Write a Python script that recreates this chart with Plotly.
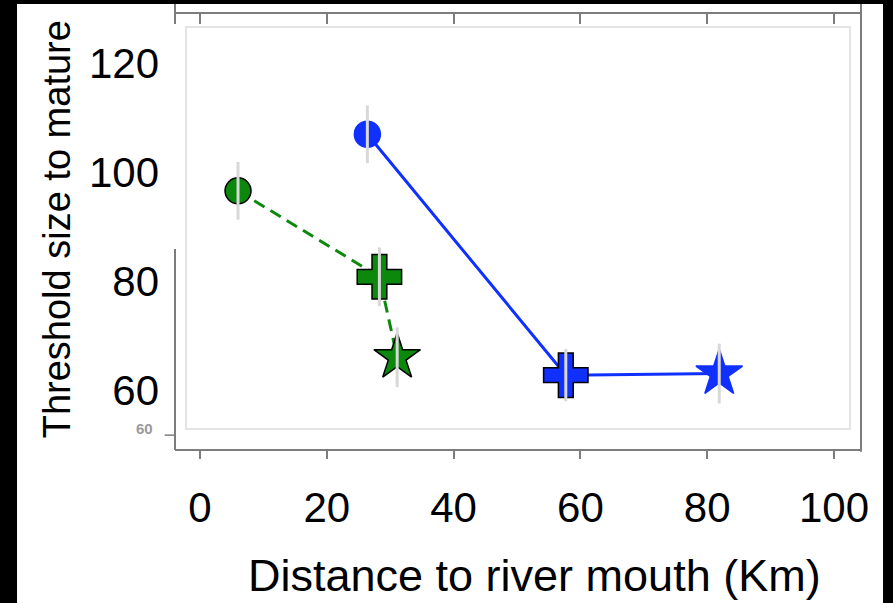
import plotly.graph_objects as go

# datos
distancia_verde = [6.0, 28.3, 31.1]
umbral_verde = [96.6, 80.8, 66.0]
error_verde = [5.3, 5.4, 5.5]

distancia_azul = [26.4, 57.7, 81.9]
umbral_azul = [107.0, 62.7, 63.0]
error_azul = [5.3, 4.8, 5.5]

simbolos = ["circle", "cross", "star"]
x_ticks = [0, 20, 40, 60, 80, 100]
y_ticks = [60, 80, 100, 120]

VERDE = "#0c890c"
AZUL = "#1030ff"
GRIS = "#7d7d7d"
FUENTE = "Liberation Sans, Arial, sans-serif"

x_rango = [-3.94, 104.26]
y_rango = [48.95, 129.3]

fig = go.Figure()

# serie verde (linea discontinua)
fig.add_trace(go.Scatter(
    x=distancia_verde, y=umbral_verde, mode="lines+markers",
    line=dict(color=VERDE, width=3, dash="12px,7px"),
    marker=dict(symbol=simbolos, size=[26, 37, 35], color=VERDE, opacity=1,
                line=dict(color="black", width=1.5)),
    showlegend=False))

# serie azul (linea continua)
fig.add_trace(go.Scatter(
    x=distancia_azul, y=umbral_azul, mode="lines+markers",
    line=dict(color=AZUL, width=3),
    marker=dict(symbol=simbolos, size=[26, 37, 35], color=AZUL, opacity=1,
                line=dict(color=[AZUL, "black", AZUL], width=1.5)),
    showlegend=False))

# barras de error grises por encima de los marcadores
fig.add_trace(go.Scatter(
    x=distancia_verde + distancia_azul, y=umbral_verde + umbral_azul,
    mode="markers", marker=dict(size=1, opacity=0),
    error_y=dict(type="data", array=error_verde + error_azul,
                 color="#d8d8d8", thickness=3, width=0),
    xaxis="x2", showlegend=False, hoverinfo="skip"))

# fondo blanco sobre el negro
fig.add_shape(type="rect", xref="paper", yref="paper",
              x0=-0.2303, x1=1.0321, y0=-0.37, y1=1.0206,
              fillcolor="white", line_width=0, layer="below")
# panel interior gris claro
fig.add_shape(type="rect", xref="paper", yref="paper",
              x0=0.016, x1=0.984, y0=0.048, y1=0.968,
              line=dict(color="#e4e4e4", width=2), layer="below")
# marco exterior
for x0, x1, y0, y1 in [(0, 1, 1, 1), (0, 1, 0, 0), (1, 1, -0.004, 1.0206),
                       (0, 0, 0.975, 1.0206), (0, 0, 0, 0.46)]:
    fig.add_shape(type="line", xref="paper", yref="paper",
                  x0=x0, x1=x1, y0=y0, y1=y1,
                  line=dict(color=GRIS, width=2))
# marca pequena "60" del grafico original
fig.add_shape(type="line", xref="paper", yref="paper",
              x0=-0.015, x1=0, y0=0.034, y1=0.034,
              line=dict(color=GRIS, width=1.5))
fig.add_annotation(text="<b>60</b>", xref="paper", yref="paper", x=-0.06, y=0.025,
                   showarrow=False, font=dict(family=FUENTE, size=15, color="#9a9a9a"))

# titulos de los ejes
fig.add_annotation(text="Distance to river mouth (Km)", xref="paper", yref="paper",
                   x=0.524, y=-0.287, xanchor="center", yanchor="middle",
                   showarrow=False, font=dict(family=FUENTE, size=45, color="black"))
fig.add_annotation(text="Threshold size to mature", xref="paper", yref="paper",
                   x=-0.172, y=0.505, textangle=-90, xanchor="center", yanchor="middle",
                   showarrow=False, font=dict(family=FUENTE, size=38, color="black"))

fig.update_layout(
    width=893, height=603,
    margin=dict(l=175, r=32, t=13, b=153),
    paper_bgcolor="black", plot_bgcolor="white",
    font=dict(family=FUENTE, color="black"),
    xaxis=dict(range=x_rango, tickvals=x_ticks, ticks="outside", ticklen=8,
               tickwidth=2, tickcolor=GRIS, showgrid=False, zeroline=False,
               showline=False, tickfont=dict(size=42, color="black"),
               ticklabelstandoff=13, automargin=False),
    xaxis2=dict(range=x_rango, overlaying="x", side="top", tickvals=x_ticks,
                ticks="inside", ticklen=11, tickwidth=2, tickcolor=GRIS,
                showticklabels=False, showgrid=False, zeroline=False,
                showline=False, automargin=False),
    yaxis=dict(range=y_rango, tickvals=y_ticks, ticks="", showgrid=False,
               zeroline=False, showline=False, tickfont=dict(size=42, color="black"),
               ticklabelstandoff=15, automargin=False),
)

# quitar el margen del body para que la figura ocupe toda la ventana
fig.write_html("out.html", config={"displayModeBar": False},
               post_script="document.body.style.margin='0';")
